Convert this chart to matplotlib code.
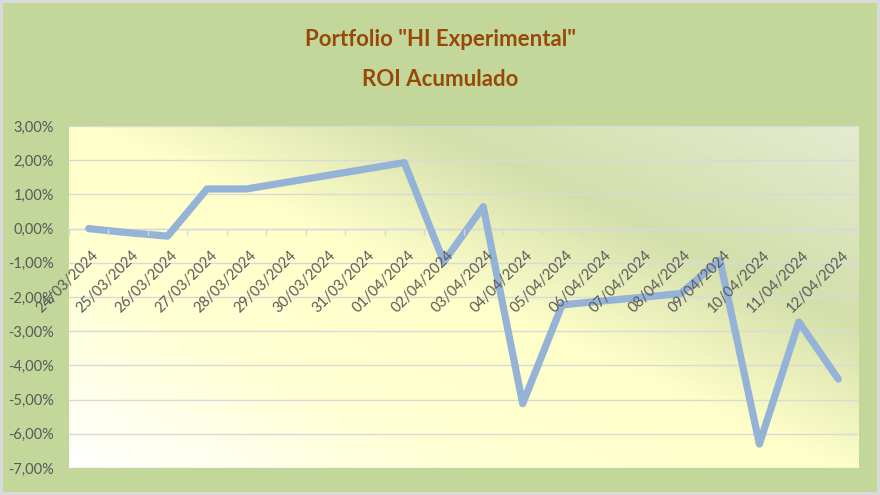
import matplotlib
matplotlib.use("Agg")
import matplotlib.pyplot as plt
import numpy as np
from matplotlib.colors import LinearSegmentedColormap
from matplotlib.ticker import FuncFormatter, MultipleLocator
import matplotlib.transforms as mtransforms

# data (None = no value that day, line joins across)
dates = ["24/03/2024", "25/03/2024", "26/03/2024", "27/03/2024", "28/03/2024",
         "29/03/2024", "30/03/2024", "31/03/2024", "01/04/2024", "02/04/2024",
         "03/04/2024", "04/04/2024", "05/04/2024", "06/04/2024", "07/04/2024",
         "08/04/2024", "09/04/2024", "10/04/2024", "11/04/2024", "12/04/2024"]
roi = [0.00, -0.12, -0.22, 1.16, 1.16,
       None, None, None, 1.93, -0.97,
       0.64, -5.12, -2.23, None, None,
       -1.90, -0.92, -6.30, -2.73, -4.40]

title_lines = ['Portfolio "HI Experimental"', "ROI Acumulado"]

plt.rcParams["font.family"] = ["Lato", "DejaVu Sans"]

fig = plt.figure(figsize=(8.8, 4.95), dpi=100)
fig.patch.set_facecolor("#C4D79B")
fig.patch.set_edgecolor("#D9D9D9")
fig.patch.set_linewidth(3)

ax = fig.add_axes([69 / 880, 1 - 468 / 495, 789 / 880, 342 / 495])

# plot area gradient (white bottom-left -> yellow -> green band -> pale top-right)
W, H = 789, 342
px, py = np.meshgrid(np.linspace(0, W, 300), np.linspace(0, H, 150))
t = (0.42 * px + 0.91 * py) / (0.42 * W + 0.91 * H)
cmap = LinearSegmentedColormap.from_list(
    "plotarea",
    [(0.0, "#FFFFFF"), (0.28, "#FFFFD2"), (0.5, "#FFFFCA"),
     (0.72, "#D3DFAB"), (1.0, "#E4EBD0")])
ax.imshow(t, cmap=cmap, origin="lower", extent=[0, 1, 0, 1],
          transform=ax.transAxes, aspect="auto", zorder=0)

x = np.arange(len(dates))
vals = np.array([np.nan if v is None else v for v in roi])
ok = ~np.isnan(vals)
ax.plot(x[ok], vals[ok], color="#95B3D7", lw=5.2, solid_capstyle="round",
        solid_joinstyle="round", zorder=3)

ax.set_xlim(-0.5, len(dates) - 0.5)
ax.set_ylim(-7, 3)

for s in ["top", "right", "left"]:
    ax.spines[s].set_visible(False)
ax.spines["bottom"].set_position(("data", 0))
ax.spines["bottom"].set_color("#D9D9D9")
ax.spines["bottom"].set_linewidth(1)

ax.yaxis.set_major_locator(MultipleLocator(1))
ax.yaxis.set_major_formatter(FuncFormatter(lambda v, p: f"{v:.2f}%".replace(".", ",")))
ax.grid(axis="y", color="#D9D9D9", lw=1)
ax.set_axisbelow(True)
ax.tick_params(axis="y", length=0, pad=11, labelsize=10.5, labelcolor="#595959")

ax.set_xticks(x)
ax.set_xticklabels(dates)
ax.set_xticks(np.arange(-0.5, len(dates), 1), minor=True)
ax.tick_params(axis="x", which="major", length=0, pad=14, labelsize=10.5,
               labelcolor="#595959")
ax.tick_params(axis="x", which="minor", length=4, width=1, color="#D9D9D9")
off = mtransforms.ScaledTranslation(3 / 100, 0, fig.dpi_scale_trans)
for lab in ax.get_xticklabels():
    lab.set_rotation(45)
    lab.set_rotation_mode("anchor")
    lab.set_ha("right")
    lab.set_va("top")
    lab.set_transform(lab.get_transform() + off)
ax.xaxis.set_zorder(4)

fig.text(0.5, 1 - 39 / 495, title_lines[0], ha="center", va="center",
         fontsize=16, fontweight="bold", color="#984807")
fig.text(0.5, 1 - 80 / 495, title_lines[1], ha="center", va="center",
         fontsize=16, fontweight="bold", color="#984807")

fig.savefig("out.png", dpi=100)
